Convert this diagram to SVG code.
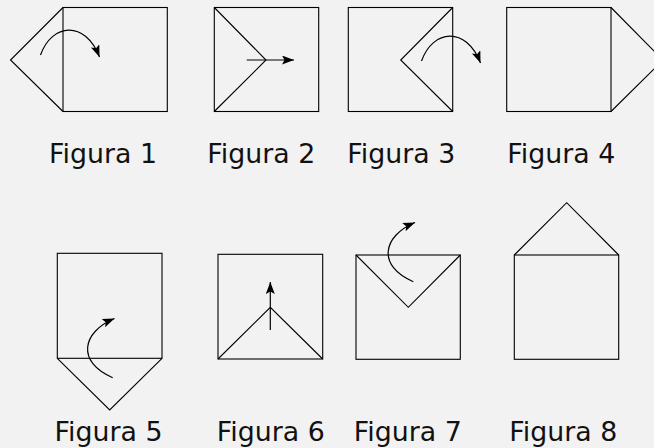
<svg xmlns="http://www.w3.org/2000/svg" width="654" height="448" viewBox="0 0 654 448">
<defs>
<style>
.bg{fill:#f2f2f2}
.sh{fill:none;stroke:#000;stroke-width:1.1;stroke-linejoin:miter}
.arr{fill:none;stroke:#000;stroke-width:1.2;marker-end:url(#ah)}
.lbl{font-family:"DejaVu Sans",sans-serif;font-size:26.8px;fill:#111;text-anchor:middle}
</style>
<marker id="ah" markerUnits="userSpaceOnUse" markerWidth="14" markerHeight="10" refX="12" refY="4.5" orient="auto" viewBox="0 0 14 10">
<path d="M0,0 L12,4.5 L0,9 L2.5,4.5 z" fill="#000"/>
</marker>
</defs>
<rect class="bg" x="0" y="0" width="654" height="448"/>

<g id="fig1">
<rect class="sh" x="63" y="7.5" width="104.3" height="104"/>
<polyline class="sh" points="63,7.5 10.5,60 63,111.5"/>
<text class="lbl" x="103" y="162.5">Figura 1</text>
</g>
<g id="fig2">
<rect class="sh" x="214.3" y="7.5" width="104.4" height="104"/>
<polyline class="sh" points="214.3,7.5 266,60 214.3,111.5"/>
<text class="lbl" x="261.3" y="162.5">Figura 2</text>
</g>
<g id="fig3">
<rect class="sh" x="348.3" y="7.5" width="104.4" height="104"/>
<polyline class="sh" points="452.7,7.5 400.7,60 452.7,111.5"/>
<text class="lbl" x="401.3" y="162.5">Figura 3</text>
</g>
<g id="fig4">
<rect class="sh" x="506.7" y="7.5" width="104.3" height="104"/>
<polyline class="sh" points="611,7.5 663,60 611,111.5"/>
<text class="lbl" x="561.3" y="162.5">Figura 4</text>
</g>
<g id="fig5">
<rect class="sh" x="57.3" y="253.3" width="104.7" height="105"/>
<polyline class="sh" points="57.3,358.3 109.7,410 162,358.3"/>
<text class="lbl" x="108.5" y="440.5">Figura 5</text>
</g>
<g id="fig6">
<rect class="sh" x="218" y="254.3" width="104.7" height="104.7"/>
<polyline class="sh" points="218,359 270.3,307.3 322.7,359"/>
<text class="lbl" x="270.8" y="440.5">Figura 6</text>
</g>
<g id="fig7">
<rect class="sh" x="356" y="255" width="104.3" height="104.3"/>
<polyline class="sh" points="356,255 408.3,307.3 460.3,255"/>
<text class="lbl" x="407.8" y="440.5">Figura 7</text>
</g>
<g id="fig8">
<rect class="sh" x="514.3" y="255" width="104.4" height="104.3"/>
<polyline class="sh" points="514.3,255 566.7,202.7 618.7,255"/>
<text class="lbl" x="563.3" y="440.5">Figura 8</text>
</g>

<g id="connectors">
<path class="arr" d="M40.5,55 C52,23 85,20 99.5,57"/>
<path class="arr" d="M246.7,60 L294,60"/>
<path class="arr" d="M421.5,61 C433,29 466,26 480.5,63"/>
<path class="arr" d="M112.7,377.7 C76,362 82,332 114.5,318.5"/>
<path class="arr" d="M270.3,330 L270.3,282"/>
<path class="arr" d="M413.3,281.7 C376.6,266 382.6,236 415,222.5"/>
</g>
</svg>
